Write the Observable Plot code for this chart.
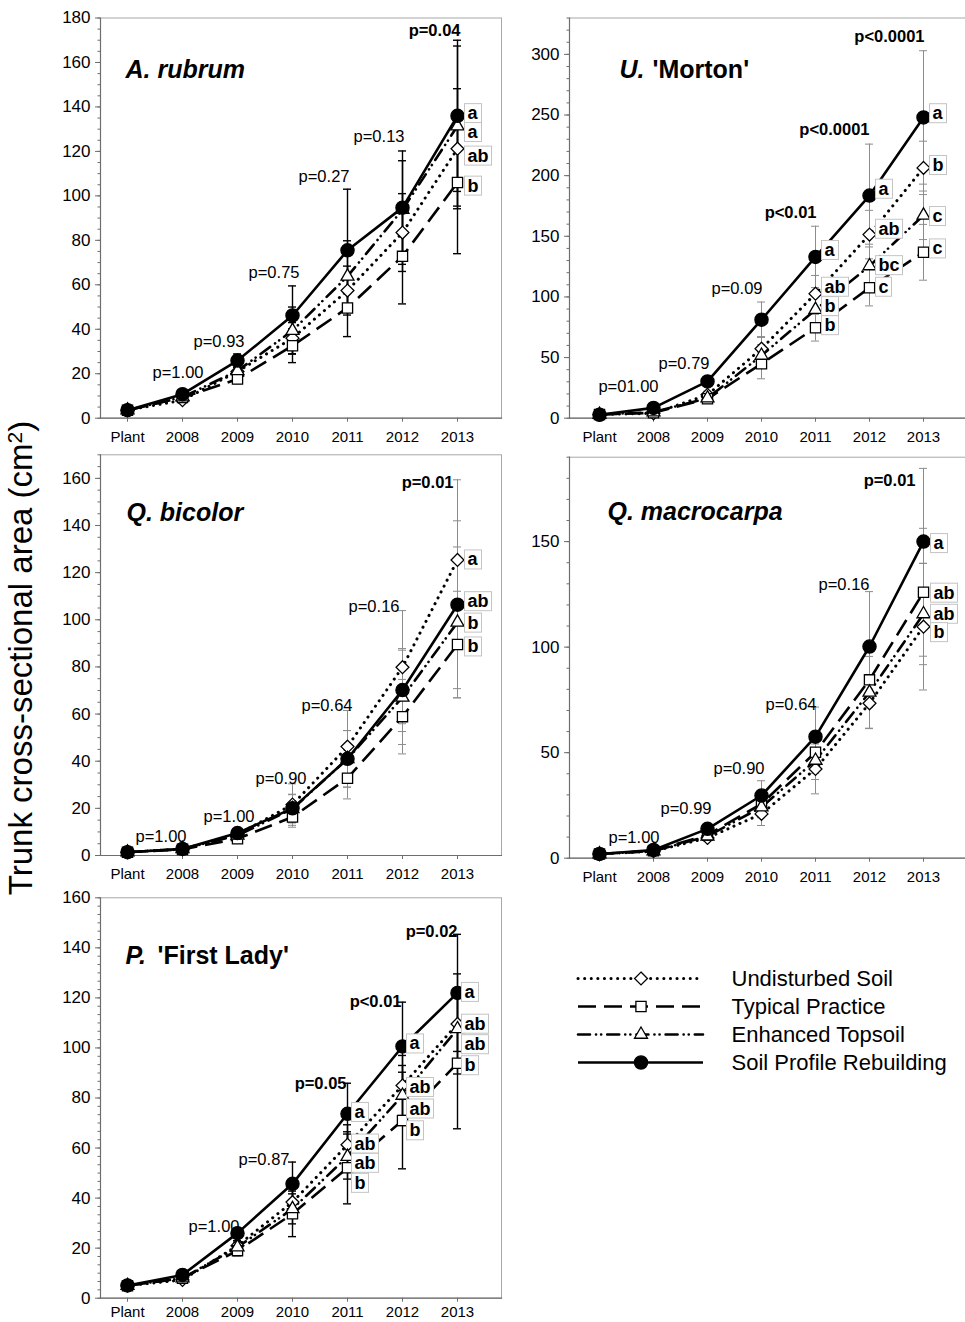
<!DOCTYPE html>
<html><head><meta charset="utf-8">
<script src="https://cdn.jsdelivr.net/npm/d3@7"></script>
<script src="https://cdn.jsdelivr.net/npm/@observablehq/plot@0.6"></script>
<style>
html,body{margin:0;padding:0;background:#fff;overflow:hidden}
#root{position:relative;width:965px;height:1322px;overflow:hidden;font-family:"Liberation Sans",Arial,sans-serif;color:#000}
.panel{position:absolute}
.panel svg{max-width:none !important}
#ylab{position:absolute;left:20px;top:658px;transform:translate(-50%,-50%) rotate(-90deg);white-space:nowrap;font-size:33px;line-height:1;font-family:"Liberation Sans",Arial,sans-serif}
#ylab sup{font-size:21px;vertical-align:0.45em;line-height:0}
</style></head><body><div id="root"><div id="ylab">Trunk cross-sectional area (cm<sup>2</sup>)</div></div>
<script>
const years = ["Plant","2008","2009","2010","2011","2012","2013"];
const seriesNames = ["Undisturbed Soil","Typical Practice","Enhanced Topsoil","Soil Profile Rebuilding"];

// A. rubrum
const rubrumUndisturbed = [3.6, 8.1, 21.0, 36.0, 57.4, 83.5, 121.2];
const rubrumTypical     = [3.6, 9.3, 17.6, 32.6, 49.6, 72.8, 106.0];
const rubrumEnhanced    = [3.6, 9.5, 21.3, 39.4, 63.8, 93.8, 131.4];
const rubrumRebuilding  = [3.6, 10.8, 25.9, 46.2, 75.5, 94.7, 136.0];
const rubrumUndisturbedErr = [0.8, 1.2, 2.5, 7.0, 11.0, 17.5, 27.0];
const rubrumTypicalErr     = [0.8, 1.2, 2.0, 7.6, 12.9, 21.4, 32.0];
const rubrumEnhancedErr    = [0.8, 1.2, 2.5, 10.6, 16.0, 22.0, 36.0];
const rubrumRebuildingErr  = [0.8, 1.5, 3.0, 13.3, 27.5, 25.5, 34.0];
const rubrumPYears = ["2008","2009","2010","2011","2012","2013"];
const rubrumPAt    = [20.6, 34.6, 65.4, 108.6, 126.6, 174.4];
const rubrumPText  = ["p=1.00","p=0.93","p=0.75","p=0.27","p=0.13","p=0.04"];
const rubrumPBold  = [false,false,false,false,false,true];
const rubrumLetterYears = ["2013","2013","2013","2013"];
const rubrumLetterAt    = [137.1, 128.6, 118.0, 104.5];
const rubrumLetterText  = ["a","a","ab","b"];

// U. 'Morton'
const mortonUndisturbed = [3.0, 4.0, 19.3, 57.3, 102.7, 151.4, 206.4];
const mortonTypical     = [3.0, 4.5, 16.0, 44.9, 74.6, 107.6, 136.8];
const mortonEnhanced    = [3.0, 5.0, 16.5, 51.7, 89.5, 125.5, 167.3];
const mortonRebuilding  = [2.8, 8.5, 30.3, 81.2, 133.0, 183.6, 248.0];
const mortonUndisturbedErr = [0.8, 1.5, 3.0, 10.0, 15.0, 20.0, 22.0];
const mortonTypicalErr     = [0.8, 1.5, 3.0, 12.4, 11.0, 15.0, 23.0];
const mortonEnhancedErr    = [0.8, 1.5, 3.0, 9.0, 12.0, 18.0, 20.0];
const mortonRebuildingErr  = [0.8, 2.0, 4.0, 14.6, 25.3, 42.4, 55.0];
const mortonPYears = ["2008","2009","2010","2011","2012","2013"];
const mortonPAt    = [25.6, 44.9, 106.5, 169.8, 238.1, 314.6];
const mortonPText  = ["p=01.00","p=0.79","p=0.09","p<0.01","p<0.0001","p<0.0001"];
const mortonPBold  = [false,false,false,true,true,true];
const mortonLetterYears = ["2013","2013","2013","2013","2012","2012","2012","2012","2011","2011","2011","2011"];
const mortonLetterAt    = [251.3, 208.6, 166.5, 139.8, 189.0, 156.0, 126.0, 108.2, 138.5, 108.2, 92.2, 76.5];
const mortonLetterText  = ["a","b","c","c","a","ab","bc","c","a","ab","b","b"];

// Q. bicolor
const bicolorUndisturbed = [1.4, 2.7, 8.9, 21.6, 46.2, 79.9, 125.4];
const bicolorTypical     = [1.4, 2.6, 7.1, 16.3, 32.8, 58.9, 89.5];
const bicolorEnhanced    = [1.4, 2.8, 8.5, 19.8, 41.0, 67.1, 98.9];
const bicolorRebuilding  = [1.4, 2.8, 9.5, 20.0, 41.0, 70.2, 106.4];
const bicolorUndisturbedErr = [0.3, 0.5, 1.5, 8.8, 15.3, 24.0, 34.0];
const bicolorTypicalErr     = [0.3, 0.5, 1.2, 4.3, 8.8, 15.8, 22.6];
const bicolorEnhancedErr    = [0.3, 0.5, 1.5, 6.0, 12.0, 20.0, 32.0];
const bicolorRebuildingErr  = [0.3, 0.5, 1.5, 6.0, 12.0, 17.6, 35.6];
const bicolorPYears = ["2008","2009","2010","2011","2012","2013"];
const bicolorPAt    = [8.1, 16.3, 32.5, 63.6, 105.6, 158.0];
const bicolorPText  = ["p=1.00","p=1.00","p=0.90","p=0.64","p=0.16","p=0.01"];
const bicolorPBold  = [false,false,false,false,false,true];
const bicolorLetterYears = ["2013","2013","2013","2013"];
const bicolorLetterAt    = [125.5, 107.8, 98.7, 88.6];
const bicolorLetterText  = ["a","ab","b","b"];

// Q. macrocarpa
const macroUndisturbed = [2.0, 3.3, 9.6, 21.0, 42.3, 73.4, 109.7];
const macroTypical     = [2.0, 3.5, 11.0, 25.7, 50.2, 84.5, 126.0];
const macroEnhanced    = [2.0, 3.4, 10.4, 24.2, 46.3, 78.6, 115.7];
const macroRebuilding  = [2.0, 3.9, 13.9, 29.7, 57.6, 100.3, 150.0];
const macroUndisturbedErr = [0.5, 0.8, 1.5, 5.5, 11.8, 12.0, 30.0];
const macroTypicalErr     = [0.5, 0.8, 2.0, 5.0, 10.0, 13.0, 30.3];
const macroEnhancedErr    = [0.5, 0.8, 2.0, 5.0, 9.0, 17.0, 24.0];
const macroRebuildingErr  = [0.5, 0.8, 2.0, 7.0, 14.0, 26.0, 34.7];
const macroPYears = ["2008","2009","2010","2011","2012","2013"];
const macroPAt    = [9.9, 23.4, 42.6, 72.8, 129.6, 178.9];
const macroPText  = ["p=1.00","p=0.99","p=0.90","p=0.64","p=0.16","p=0.01"];
const macroPBold  = [false,false,false,false,false,true];
const macroLetterYears = ["2013","2013","2013","2013"];
const macroLetterAt    = [149.2, 125.7, 115.7, 107.0];
const macroLetterText  = ["a","ab","ab","b"];

// P. 'First Lady'
const ladyUndisturbed = [5.0, 7.3, 21.0, 38.4, 61.3, 85.0, 109.6];
const ladyTypical     = [5.0, 8.0, 19.0, 33.7, 52.1, 71.0, 93.9];
const ladyEnhanced    = [5.0, 8.0, 20.4, 35.7, 56.6, 81.0, 107.6];
const ladyRebuilding  = [5.1, 9.3, 26.0, 45.7, 73.7, 100.6, 122.0];
const ladyUndisturbedErr = [0.8, 1.0, 2.0, 6.0, 8.0, 12.0, 20.0];
const ladyTypicalErr     = [0.8, 1.0, 2.0, 9.1, 14.4, 19.3, 26.2];
const ladyEnhancedErr    = [0.8, 1.0, 2.0, 6.0, 9.0, 12.0, 15.0];
const ladyRebuildingErr  = [0.8, 1.0, 2.0, 8.7, 12.2, 17.7, 23.4];
const ladyPYears = ["2009","2010","2011","2012","2013"];
const ladyPAt    = [28.4, 55.3, 85.7, 118.3, 146.3];
const ladyPText  = ["p=1.00","p=0.87","p=0.05","p<0.01","p=0.02"];
const ladyPBold  = [false,false,true,true,true];
const ladyLetterYears = ["2013","2013","2013","2013","2012","2012","2012","2012","2011","2011","2011","2011"];
const ladyLetterAt    = [122.3, 109.6, 101.4, 93.0, 101.7, 84.3, 75.7, 67.0, 74.3, 61.7, 54.0, 46.0];
const ladyLetterText  = ["a","ab","ab","b","a","ab","ab","b","a","ab","ab","b"];

// ---- styles / layout ----
const FONT = "Liberation Sans, Arial, sans-serif";
const styles = {
  "Undisturbed Soil":        {dash: "0.1 6.5", cap: "round", width: 3,   symbol: "diamond2",  r: 5.8, fill: "white"},
  "Typical Practice":        {dash: "18 8",    cap: "butt",  width: 2.6, symbol: "square2",   r: 6.5, fill: "white"},
  "Enhanced Topsoil":        {dash: "12 6 0.1 5 0.1 6", cap: "round", width: 2.6, symbol: "triangle2", r: 6.2, fill: "white"},
  "Soil Profile Rebuilding": {dash: null,      cap: "butt",  width: 2.6, symbol: "circle",    r: 6.6, fill: "black"}
};
const root = document.getElementById("root");

function range(a, b, s) { const out = []; for (let v = a; v <= b + 1e-9; v += s) out.push(+v.toFixed(4)); return out; }

function makePanel(cfg) {
  const rows = [];
  cfg.series.forEach(([name, vals, errs]) => vals.forEach((v, i) => rows.push({series: name, year: years[i], value: v, err: errs[i]})));
  const pRows = cfg.pYears.map((y, i) => ({year: y, at: cfg.pAt[i], label: cfg.pText[i], bold: cfg.pBold[i], nudge: cfg.pNudge[i]}));
  const lRows = cfg.lYears.map((y, i) => ({year: y, at: cfg.lAt[i], label: cfg.lText[i]}));
  const ec = cfg.errColor, ew = cfg.errWidth;
  const marks = [
    Plot.frame({stroke: "#a8a8a8", strokeWidth: 1}),
    Plot.frame({anchor: "left", stroke: "#6e6e6e", strokeWidth: 1.2}),
    Plot.frame({anchor: "bottom", stroke: "#6e6e6e", strokeWidth: 1.2}),
    Plot.axisY(cfg.minor, {tickSize: 2.5, tickFormat: () => "", stroke: "#6e6e6e", label: null}),
    Plot.axisY(cfg.major, {tickSize: 5, tickPadding: 5, fontSize: 17, stroke: "#6e6e6e", label: null}),
    Plot.axisX({tickSize: 4, tickPadding: cfg.xPad, fontSize: 15, stroke: "#6e6e6e", label: null}),
    Plot.ruleX(rows, {x: "year", y1: d => d.value - d.err, y2: d => d.value + d.err, stroke: ec, strokeWidth: ew}),
    Plot.tickY(rows, {x: "year", y: d => d.value + d.err, stroke: ec, strokeWidth: ew}),
    Plot.tickY(rows, {x: "year", y: d => d.value - d.err, stroke: ec, strokeWidth: ew})
  ];
  for (const name of seriesNames) {
    const s = styles[name];
    marks.push(Plot.lineY(rows.filter(d => d.series === name), {x: "year", y: "value", stroke: "black", strokeWidth: s.width, strokeDasharray: s.dash, strokeLinecap: s.cap}));
  }
  for (const name of seriesNames) {
    const s = styles[name];
    marks.push(Plot.dot(rows.filter(d => d.series === name), {x: "year", y: "value", symbol: s.symbol, r: s.r, fill: s.fill, stroke: "black", strokeWidth: 1.3}));
  }
  for (const p of pRows) {
    marks.push(Plot.text([p], {x: "year", y: "at", text: "label", textAnchor: "end", dx: p.nudge, fontSize: 16.5, fontWeight: p.bold ? "bold" : "normal", fill: "black"}));
  }
  marks.push(Plot.text(lRows, {x: "year", y: "at", text: "label", textAnchor: "start", dx: cfg.letterDx, fontSize: 18, fontWeight: "bold", fill: "black", ariaDescription: "letters"}));
  cfg.title.forEach(([t, italic, dx]) => {
    marks.push(Plot.text([t], {frameAnchor: "top-left", dx: dx, dy: cfg.titleDy, lineAnchor: "bottom", textAnchor: "start", fontSize: 25, fontWeight: "bold", fontStyle: italic ? "italic" : "normal", fill: "black"}));
  });
  const svg = Plot.plot({
    width: cfg.width, height: cfg.height,
    marginLeft: cfg.ml, marginRight: cfg.mr, marginTop: cfg.mt, marginBottom: cfg.mb,
    style: {fontFamily: FONT, color: "black", background: "transparent", overflow: "visible", maxWidth: "none"},
    x: {type: "band", domain: years, paddingInner: 0.855, paddingOuter: 0, insetLeft: cfg.insL, insetRight: cfg.insR, label: null},
    y: {domain: cfg.yDomain, label: null},
    marks
  });
  const wrap = document.createElement("div");
  wrap.className = "panel";
  wrap.style.left = cfg.left + "px";
  wrap.style.top = cfg.top + "px";
  wrap.style.width = cfg.width + "px";
  wrap.style.height = cfg.height + "px";
  wrap.appendChild(svg);
  root.appendChild(wrap);
  svg.querySelectorAll('g[aria-description="letters"] text').forEach(t => {
    const b = t.getBBox();
    const rect = document.createElementNS("http://www.w3.org/2000/svg", "rect");
    const h = 19;
    rect.setAttribute("x", b.x - 3);
    rect.setAttribute("y", b.y + b.height / 2 - h / 2);
    rect.setAttribute("width", b.width + 6);
    rect.setAttribute("height", h);
    rect.setAttribute("fill", "white");
    rect.setAttribute("stroke", "#c4c4c4");
    rect.setAttribute("stroke-width", "1");
    const tr = t.getAttribute("transform");
    if (tr) rect.setAttribute("transform", tr);
    t.parentNode.insertBefore(rect, t);
  });
}

const LEFT = {left: 40, width: 465, ml: 60, mr: 4, insL: 23.3, insR: 39.7};
const RIGHT = {left: 505, width: 465, ml: 64, mr: 0, insL: 23.7, insR: 40};

makePanel({...LEFT, top: 0, height: 460, mt: 17.5, mb: 42.3, xPad: 9,
  yDomain: [0, 180], major: range(0, 180, 20), minor: range(0, 180, 5),
  errColor: "black", errWidth: 1.4, letterDx: 10,
  series: [[seriesNames[0], rubrumUndisturbed, rubrumUndisturbedErr], [seriesNames[1], rubrumTypical, rubrumTypicalErr], [seriesNames[2], rubrumEnhanced, rubrumEnhancedErr], [seriesNames[3], rubrumRebuilding, rubrumRebuildingErr]],
  pYears: rubrumPYears, pAt: rubrumPAt, pText: rubrumPText, pBold: rubrumPBold, pNudge: [21, 7, 7, 2, 2, 3],
  lYears: rubrumLetterYears, lAt: rubrumLetterAt, lText: rubrumLetterText,
  title: [["A. rubrum", true, 25]], titleDy: 59.5});

makePanel({...RIGHT, top: 0, height: 460, mt: 17.5, mb: 42.3, xPad: 9,
  yDomain: [0, 330], major: range(0, 300, 50), minor: range(0, 330, 10),
  errColor: "#8c8c8c", errWidth: 1, letterDx: 9,
  series: [[seriesNames[0], mortonUndisturbed, mortonUndisturbedErr], [seriesNames[1], mortonTypical, mortonTypicalErr], [seriesNames[2], mortonEnhanced, mortonEnhancedErr], [seriesNames[3], mortonRebuilding, mortonRebuildingErr]],
  pYears: mortonPYears, pAt: mortonPAt, pText: mortonPText, pBold: mortonPBold, pNudge: [5, 2, 1, 1, 0, 1],
  lYears: mortonLetterYears, lAt: mortonLetterAt, lText: mortonLetterText,
  title: [["U.", true, 50], ["'Morton'", false, 83]], titleDy: 59.5});

makePanel({...LEFT, top: 440, height: 460, mt: 14.3, mb: 45, xPad: 9,
  yDomain: [0, 170], major: range(0, 160, 20), minor: range(0, 170, 5),
  errColor: "#8c8c8c", errWidth: 1, letterDx: 10,
  series: [[seriesNames[0], bicolorUndisturbed, bicolorUndisturbedErr], [seriesNames[1], bicolorTypical, bicolorTypicalErr], [seriesNames[2], bicolorEnhanced, bicolorEnhancedErr], [seriesNames[3], bicolorRebuilding, bicolorRebuildingErr]],
  pYears: bicolorPYears, pAt: bicolorPAt, pText: bicolorPText, pBold: bicolorPBold, pNudge: [4, 17, 14, 5, -3, -4],
  lYears: bicolorLetterYears, lAt: bicolorLetterAt, lText: bicolorLetterText,
  title: [["Q. bicolor", true, 26]], titleDy: 65.7});

makePanel({...RIGHT, top: 440, height: 460, mt: 16.7, mb: 42.3, xPad: 9,
  yDomain: [0, 190], major: range(0, 150, 50), minor: range(0, 190, 10),
  errColor: "#8c8c8c", errWidth: 1, letterDx: 10,
  series: [[seriesNames[0], macroUndisturbed, macroUndisturbedErr], [seriesNames[1], macroTypical, macroTypicalErr], [seriesNames[2], macroEnhanced, macroEnhancedErr], [seriesNames[3], macroRebuilding, macroRebuildingErr]],
  pYears: macroPYears, pAt: macroPAt, pText: macroPText, pBold: macroPBold, pNudge: [6, 4, 3, 1, 0, -8],
  lYears: macroLetterYears, lAt: macroLetterAt, lText: macroLetterText,
  title: [["Q. macrocarpa", true, 38]], titleDy: 62.3});

makePanel({...LEFT, top: 880, height: 442, mt: 17.3, mb: 24.3, xPad: 4,
  yDomain: [0, 160], major: range(0, 160, 20), minor: range(0, 160, 20 / 6),
  errColor: "black", errWidth: 1.4, letterDx: 7,
  series: [[seriesNames[0], ladyUndisturbed, ladyUndisturbedErr], [seriesNames[1], ladyTypical, ladyTypicalErr], [seriesNames[2], ladyEnhanced, ladyEnhancedErr], [seriesNames[3], ladyRebuilding, ladyRebuildingErr]],
  pYears: ladyPYears, pAt: ladyPAt, pText: ladyPText, pBold: ladyPBold, pNudge: [2, -3, -1, -1, 0],
  lYears: ladyLetterYears, lAt: ladyLetterAt, lText: ladyLetterText,
  title: [["P.", true, 25], ["'First Lady'", false, 57]], titleDy: 65.7});

// legend
(function () {
  const marks = [];
  for (const name of seriesNames) {
    const s = styles[name];
    marks.push(Plot.ruleY([name], {y: d => d, x1: 0, x2: 1, stroke: "black", strokeWidth: s.width, strokeDasharray: s.dash, strokeLinecap: s.cap}));
    marks.push(Plot.dot([name], {y: d => d, x: 0.5, symbol: s.symbol, r: s.r, fill: s.fill, stroke: "black", strokeWidth: 1.3}));
  }
  marks.push(Plot.text(seriesNames, {y: d => d, x: 1, text: d => d, textAnchor: "start", dx: 28, fontSize: 22, fill: "black"}));
  const svg = Plot.plot({
    width: 395, height: 120, marginLeft: 8, marginRight: 262, marginTop: 18, marginBottom: 18,
    style: {fontFamily: FONT, color: "black", background: "transparent", overflow: "visible", maxWidth: "none"},
    x: {domain: [0, 1], axis: null},
    y: {type: "point", domain: seriesNames, padding: 0, axis: null},
    marks
  });
  const wrap = document.createElement("div");
  wrap.className = "panel";
  wrap.style.left = "570px";
  wrap.style.top = "960px";
  wrap.style.width = "395px";
  wrap.appendChild(svg);
  root.appendChild(wrap);
})();
</script></body></html>
